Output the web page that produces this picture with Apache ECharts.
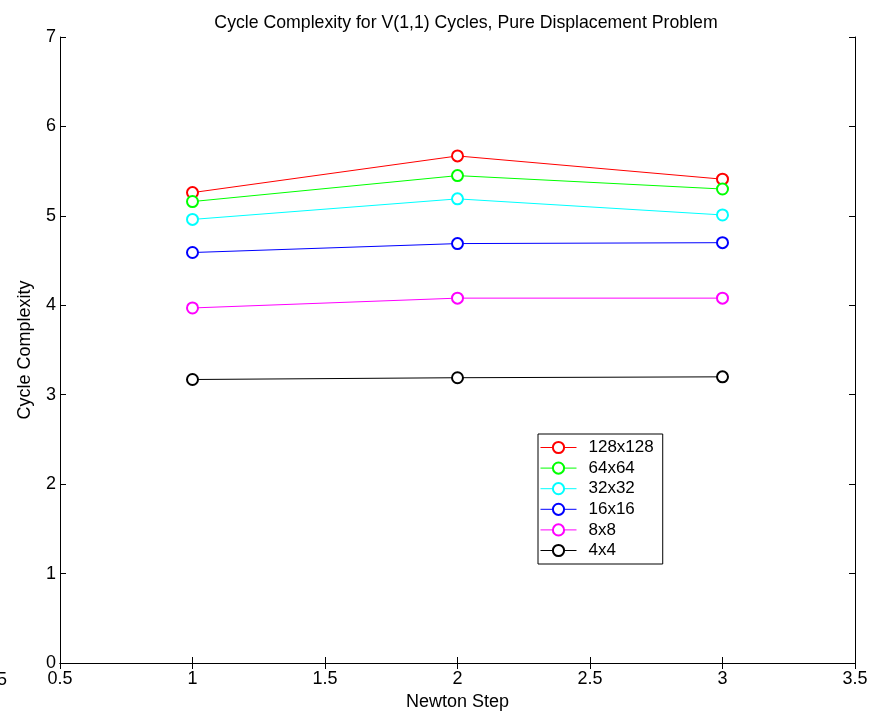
<!DOCTYPE html>
<html>
<head>
<meta charset="utf-8">
<script src="https://cdn.jsdelivr.net/npm/echarts@6/dist/echarts.min.js"></script>
<style>
    html, body { margin: 0; padding: 0; background: #fff; }
    #chart { width: 883px; height: 714px; }
</style>
</head>
<body>
<div id="chart"></div>
<script>
    var newtonSteps = [1, 2, 3];
    var seriesNames = ['128x128', '64x64', '32x32', '16x16', '8x8', '4x4'];
    var seriesColors = ['#ff0000', '#00ff00', '#00ffff', '#0000ff', '#ff00ff', '#000000'];
    var v128 = [5.26, 5.67, 5.41];
    var v64 = [5.16, 5.45, 5.30];
    var v32 = [4.96, 5.19, 5.01];
    var v16 = [4.59, 4.69, 4.70];
    var v8 = [3.97, 4.08, 4.08];
    var v4 = [3.17, 3.19, 3.20];
    var allValues = [v128, v64, v32, v16, v8, v4];

    var font = 'Liberation Sans, Arial, Helvetica, sans-serif';
    var myChart = echarts.init(document.getElementById('chart'));

    var series = [];
    for (var i = 0; i < seriesNames.length; i++) {
        series.push({
            name: seriesNames[i],
            type: 'line',
            symbol: 'emptyCircle',
            symbolSize: 11,
            color: seriesColors[i],
            lineStyle: { width: 1 },
            itemStyle: { borderWidth: 0.8 },
            animation: false,
            data: newtonSteps.map(function (x, j) { return [x, allValues[i][j]]; })
        });
    }

    var tickStyle = { inside: true, length: 6, lineStyle: { color: '#000', width: 1 } };
    var lineStyle = { lineStyle: { color: '#000', width: 1 } };

    var option = {
        backgroundColor: '#fff',
        title: {
            text: 'Cycle Complexity for V(1,1) Cycles, Pure Displacement Problem',
            left: 461, top: 9, textAlign: 'center',
            textStyle: { fontFamily: font, fontSize: 17.7, fontWeight: 'normal', color: '#000' }
        },
        legend: {
            orient: 'vertical',
            left: 538, top: 434,
            padding: [5, 9, 5, 2],
            itemGap: 3.6,
            itemWidth: 36,
            itemHeight: 14,
            backgroundColor: '#fff',
            borderColor: '#000',
            borderWidth: 1,
            borderRadius: 0,
            itemStyle: { borderWidth: 0.8 },
            lineStyle: { width: 1 },
            textStyle: { fontFamily: font, fontSize: 17, color: '#000', padding: [0, 0, 0, 7] },
            data: seriesNames
        },
        grid: { left: 60, right: 28, top: 37, bottom: 51, outerBoundsMode: 'none' },
        xAxis: [{
            type: 'value', min: 0.5, max: 3.5, interval: 0.5,
            name: 'Newton Step', nameLocation: 'middle', nameGap: 30,
            nameTextStyle: { fontFamily: font, fontSize: 18, color: '#000' },
            axisLine: lineStyle, axisTick: tickStyle,
            axisLabel: { fontFamily: font, fontSize: 18, color: '#000', margin: 7 },
            splitLine: { show: false }
        }, {
            type: 'value', position: 'top', min: 0.5, max: 3.5, interval: 0.5,
            axisLine: lineStyle, axisTick: tickStyle,
            axisLabel: { show: false }, splitLine: { show: false }
        }],
        yAxis: [{
            type: 'value', min: 0, max: 7, interval: 1,
            name: 'Cycle Complexity', nameLocation: 'middle', nameGap: 26,
            nameTextStyle: { fontFamily: font, fontSize: 18, color: '#000' },
            axisLine: lineStyle, axisTick: tickStyle,
            axisLabel: { fontFamily: font, fontSize: 18, color: '#000', margin: 4 },
            splitLine: { show: false }
        }, {
            type: 'value', position: 'right', min: 0, max: 7, interval: 1,
            axisLine: lineStyle, axisTick: tickStyle,
            axisLabel: { show: false }, splitLine: { show: false }
        }],
        graphic: [{
            type: 'text', x: -18, y: 671,
            style: { text: '0.5', font: '18px ' + font, fill: '#000' }
        }],
        series: series
    };
    myChart.setOption(option);
</script>
</body>
</html>
